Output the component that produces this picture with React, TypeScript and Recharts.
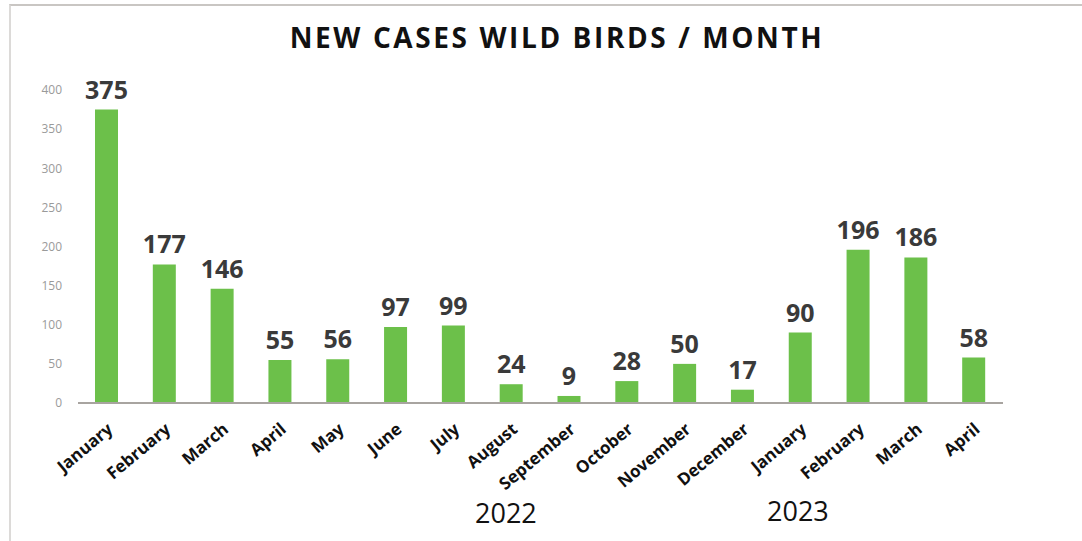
import { BarChart, Bar, XAxis, YAxis, LabelList } from "recharts";

const months = [
  "January", "February", "March", "April", "May", "June", "July", "August",
  "September", "October", "November", "December", "January", "February", "March", "April",
];
const cases = [375, 177, 146, 55, 56, 97, 99, 24, 9, 28, 50, 17, 90, 196, 186, 58];
const yTicks = [0, 50, 100, 150, 200, 250, 300, 350, 400];
const years = ["2022", "2023"];

const data = months.map((m, i) => ({ key: `${m}-${i}`, month: m, cases: cases[i] }));

function MonthTick(props: any) {
  const { x, y, payload } = props;
  const label = months[payload.index] ?? payload.value;
  return (
    <g transform={`translate(${x + 7},${y + 20})`}>
      <text
        transform="rotate(-40)"
        textAnchor="end"
        fill="#111"
        fontFamily="'Open Sans', sans-serif"
        fontWeight={700}
        fontSize={17}
      >
        {label}
      </text>
    </g>
  );
}

export default function App() {
  return (
    <div style={{ position: "absolute", left: 0, top: 0, width: 1082, height: 541, background: "#fff", fontFamily: "'Open Sans', sans-serif" }}>
      <div style={{ position: "absolute", left: 9, top: 4, right: -2, bottom: -2, borderTop: "2px solid #c9c6c3", borderLeft: "2px solid #dcdad8" }} />
      <div style={{ position: "absolute", left: 0, width: 1114, top: 18, textAlign: "center", fontSize: 28, fontWeight: 700, letterSpacing: 2.6, color: "#111" }}>
        NEW CASES WILD BIRDS / MONTH
      </div>
      <BarChart width={1082} height={541} data={data} margin={{ top: 90, right: 79, bottom: 0, left: 0 }}>
        <YAxis
          domain={[0, 400]}
          ticks={yTicks}
          width={78}
          axisLine={false}
          tickLine={false}
          tickMargin={10}
          tick={{ fill: "#9a9a9a", fontSize: 12 }}
        />
        <XAxis
          dataKey="key"
          height={138}
          interval={0}
          axisLine={{ stroke: "#a8a4a0", strokeWidth: 2 }}
          tickLine={false}
          tick={<MonthTick />}
        />
        <Bar dataKey="cases" fill="#6cc04a" barSize={23} isAnimationActive={false}>
          <LabelList
            dataKey="cases"
            position="top"
            offset={11}
            fill="#3a3a3a"
            fontSize={25}
            fontWeight={700}
          />
        </Bar>
      </BarChart>
      <div style={{ position: "absolute", left: 475, top: 494, fontSize: 27, color: "#111" }}>{years[0]}</div>
      <div style={{ position: "absolute", left: 767, top: 492, fontSize: 27, color: "#111" }}>{years[1]}</div>
    </div>
  );
}
